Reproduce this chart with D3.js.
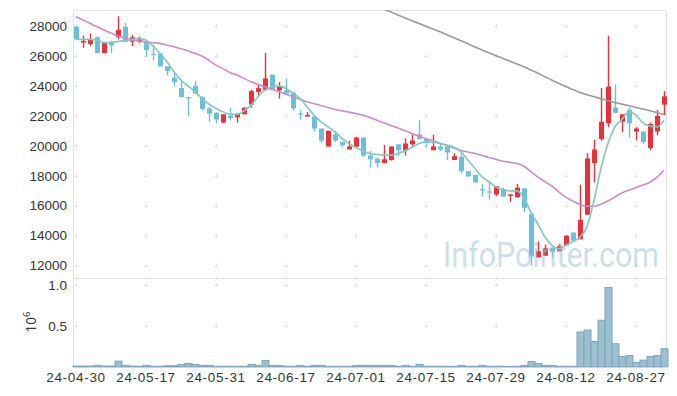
<!DOCTYPE html>
<html>
<head>
<meta charset="utf-8">
<script src="https://cdn.jsdelivr.net/npm/d3@7"></script>
<style>
  body { margin: 0; background: #fff; }
  svg { display: block; font-family: "Noto Sans", sans-serif; }
  .axis text { fill: #333; font-size: 13.5px; }
  .axis path, .axis line { display: none; }
</style>
</head>
<body>
<div class="chart"></div>
<script>
// trading days, 24-04-30 .. 24-09-02
const dates = [
  "24-04-30",
  "24-05-02","24-05-03","24-05-07","24-05-08","24-05-09","24-05-10","24-05-13","24-05-14","24-05-16","24-05-17",
  "24-05-20","24-05-21","24-05-22","24-05-23","24-05-24","24-05-27","24-05-28","24-05-29","24-05-30","24-05-31",
  "24-06-03","24-06-04","24-06-05","24-06-07","24-06-10","24-06-11","24-06-12","24-06-13","24-06-14",
  "24-06-17","24-06-18","24-06-19","24-06-20","24-06-21","24-06-24","24-06-25","24-06-26","24-06-27","24-06-28",
  "24-07-01","24-07-02","24-07-03","24-07-04","24-07-05","24-07-08","24-07-09","24-07-10","24-07-11","24-07-12",
  "24-07-15","24-07-16","24-07-17","24-07-18","24-07-19","24-07-22","24-07-23","24-07-24","24-07-25","24-07-26",
  "24-07-29","24-07-30","24-07-31","24-08-01","24-08-02","24-08-05","24-08-06","24-08-07","24-08-08","24-08-09",
  "24-08-12","24-08-13","24-08-14","24-08-16","24-08-19","24-08-20","24-08-21","24-08-22","24-08-23",
  "24-08-26","24-08-27","24-08-28","24-08-29","24-08-30","24-09-02"
];

const open = [27950,26900,26800,27250,26200,26900,27250,27950,26950,26950,
  26950,26150,26150,25300,24550,23850,23250,24000,23250,22500,
  22200,21550,22000,21900,22100,22750,23600,23750,24750,23700,
  23700,23550,22150,21950,21950,21150,19950,20750,20250,19750,
  19950,20550,19350,19150,18850,19050,20100,19700,20100,20750,
  20450,19700,19950,19950,19050,19250,18300,18050,17100,16950,
  16750,17100,16650,16550,17150,15450,12550,12650,13200,12950,
  13350,14200,13750,15400,18850,20450,21500,22550,21600,22400,
  20950,20950,19850,20950,22750];
const high = [28000,27350,27500,27300,26900,27000,28650,28200,27400,27300,
  26950,26750,26150,25300,24950,24300,23250,24350,23300,22600,
  22250,22100,22550,22150,22550,23750,24100,26200,24750,24250,
  24500,23550,22400,22250,21950,21150,21000,21000,20250,20350,
  20600,20550,19650,19150,20050,19950,20100,20500,20750,21700,
  20450,20750,20150,19950,19500,19600,18300,18050,17450,17650,
  17300,17200,16750,17450,17150,15450,13600,13400,13200,13450,
  14000,14200,17400,19500,20400,23850,27350,24100,22100,22550,
  21250,20950,21550,22400,23650];
const low = [27100,26550,26650,26200,26200,26200,27100,26900,26650,26850,
  25950,25700,25300,24700,23950,23250,21950,23450,22350,21600,
  21500,21500,21700,21550,22100,22550,23250,23650,23750,23150,
  23450,22350,21750,21950,20950,20200,19950,20250,19900,19750,
  19900,19250,18550,18550,18850,19000,19300,19350,19950,20450,
  19900,19700,19650,19050,19050,18150,17950,17550,16600,16400,
  16650,16600,16250,16550,15550,12000,12550,12650,12500,12950,
  13350,13650,13750,15400,17550,20350,21250,22200,20900,20550,
  20350,20100,19700,20700,22050];
const close = [27100,27000,27100,26200,26900,26700,27750,26950,27250,27100,
  26400,26100,25300,25000,24250,23250,23200,23500,22450,22150,
  21750,22100,21850,22150,22550,23650,23850,24500,23750,23950,
  23500,22500,22100,22050,21150,20350,21000,20350,20050,19950,
  20550,19350,19100,18850,19100,19950,19700,20150,20350,20450,
  20200,19950,19750,19550,19300,18300,17950,17550,17050,16900,
  17300,16600,16750,17200,15850,12600,12950,13150,12900,13300,
  14000,13650,15050,19150,19750,21600,23950,22200,22100,21500,
  21150,20250,21450,22000,23300];
const volume = [8000,8000,8000,16000,8000,8000,68000,16000,8000,5000,
  16000,5000,5000,12000,12000,28000,40000,28000,16000,16000,
  5000,5000,5000,5000,5000,28000,16000,76000,16000,16000,
  5000,5000,16000,5000,16000,16000,5000,5000,5000,5000,
  16000,16000,16000,16000,16000,16000,5000,16000,5000,28000,
  5000,5000,5000,5000,3000,16000,5000,5000,16000,5000,
  5000,5000,3000,5000,16000,64000,40000,16000,16000,5000,
  5000,5000,424000,448000,308000,568000,968000,280000,124000,136000,
  52000,80000,124000,136000,220000];

// moving averages as drawn
const ma5 = [27108,27108,27108,27063,26885,26907,26974,27019,27108,27175,
  27063,26662,26171,25614,24945,24387,24000,23605,23163,22782,
  22494,22270,22093,22093,22334,22700,23272,23718,23941,23986,
  23830,23495,23161,22603,22046,21600,21265,20930,20485,20150,
  19882,19659,19481,19414,19370,19370,19481,19659,19882,20150,
  20262,20239,20150,20038,19900,19592,19035,18478,17920,17586,
  17251,17073,16984,16984,16520,15550,14760,13900,13349,13125,
  13350,13600,13880,14600,16359,18500,20150,21265,21756,22269,
  22046,21533,21310,21265,21711];
const ma20 = [28624,28400,28178,27950,27732,27530,27331,27200,27063,27000,
  26930,26885,26840,26730,26617,26480,26350,26170,25993,25700,
  25390,25150,24900,24721,24500,24275,24100,23941,23770,23606,
  23440,23272,23100,22938,22810,22692,22560,22424,22330,22246,
  22150,22045,21880,21711,21530,21354,21180,20998,20820,20640,
  20480,20328,20170,20016,19850,19680,19580,19481,19350,19213,
  19090,18968,18890,18812,18634,18250,17900,17600,17300,16900,
  16550,16300,16080,15960,15960,16092,16315,16580,16850,17030,
  17206,17380,17563,17900,18366];
const ma120 = [null,null,null,null,null,null,null,null,null,null,
  null,null,null,null,null,null,null,null,null,null,
  null,null,null,null,null,null,null,null,null,null,
  null,null,null,null,null,null,null,null,null,null,
  29880,29690,29500,29310,29120,28930,28736,28540,28350,28160,
  27980,27800,27620,27420,27220,27018,26810,26600,26394,26210,
  26020,25836,25650,25460,25279,25060,24840,24610,24380,24160,
  23941,23750,23562,23410,23272,23140,23005,22890,22781,22670,
  22558,22450,22336,22210,22090];

const priceTicks = [12000,14000,16000,18000,20000,22000,24000,26000,28000];
const volTicks = [500000, 1000000];
const labelDates = ["24-04-30","24-05-17","24-05-31","24-06-17","24-07-01","24-07-15","24-07-29","24-08-12","24-08-27"];

const W = 677, H = 396;
const pL = 73, pR = 667, pT = 10, pSplit = 278, pB = 367;

const svg = d3.select(".chart").append("svg").attr("width", W).attr("height", H);

const x = d3.scaleBand().domain(dates).range([pL - 0.5, pR + 0.5]).padding(0);
const cx = d => x(d) + x.bandwidth() / 2;
const y = d3.scaleLinear().domain([11165, 29069]).range([pSplit, pT]);
const yv = d3.scaleLinear().domain([0, 1084000]).range([pB - 0.3, pSplit]);

svg.append("clipPath").attr("id", "pclip")
  .append("rect").attr("x", pL).attr("y", pT).attr("width", pR - pL).attr("height", pSplit - pT);

// frame
const frame = svg.append("g").attr("stroke", "#e3e3e3").attr("fill", "none");
frame.append("rect").attr("x", pL + 0.5).attr("y", pT + 0.5).attr("width", pR - pL - 1).attr("height", pB - pT);
frame.append("line").attr("x1", pL).attr("x2", pR).attr("y1", pSplit + 0.5).attr("y2", pSplit + 0.5);

// "+" grid marks
const gx = labelDates.map(cx);
const gy = priceTicks.map(y).concat(volTicks.map(yv), [pSplit, pB]);
const grid = svg.append("g").attr("stroke", "#e4e4e4").attr("stroke-width", 1);
gx.forEach(px => gy.forEach(py => {
  grid.append("line").attr("x1", px - 2).attr("x2", px + 2).attr("y1", Math.round(py) + 0.5).attr("y2", Math.round(py) + 0.5);
  grid.append("line").attr("x1", Math.round(px) + 0.5).attr("x2", Math.round(px) + 0.5).attr("y1", py - 2).attr("y2", py + 2);
}));

// volume bars
svg.append("g").selectAll("rect").data(dates).join("rect")
  .attr("x", d => x(d) + 0.5)
  .attr("width", x.bandwidth())
  .attr("y", (d, i) => yv(volume[i]))
  .attr("height", (d, i) => yv(0) - yv(volume[i]))
  .attr("fill", "#9cc0d0")
  .attr("stroke", "#7ba7bc")
  .attr("stroke-width", 1);

// candles
const up = i => close[i] > open[i];
const bw = x.bandwidth() * 0.72;
const candles = svg.append("g").attr("clip-path", "url(#pclip)")
  .selectAll("g").data(dates).join("g");
candles.append("line")
  .attr("x1", d => Math.round(cx(d)) + 0.5).attr("x2", d => Math.round(cx(d)) + 0.5)
  .attr("y1", (d, i) => y(high[i])).attr("y2", (d, i) => y(low[i]))
  .attr("stroke", (d, i) => up(i) ? "#ec2f38" : "#6cbfd8")
  .attr("stroke-width", 1.4);
candles.append("rect")
  .attr("x", d => Math.round(cx(d)) + 0.5 - bw / 2)
  .attr("width", bw)
  .attr("y", (d, i) => y(Math.max(open[i], close[i])))
  .attr("height", (d, i) => Math.max(1.2, Math.abs(y(open[i]) - y(close[i]))))
  .attr("fill", (d, i) => up(i) ? "#ec2f38" : "#6cbfd8");

// moving average lines
const lineOf = arr => d3.line()
  .defined((d, i) => arr[i] != null)
  .x(d => cx(d))
  .y((d, i) => y(arr[i]))
  .curve(d3.curveMonotoneX);
const lines = svg.append("g").attr("clip-path", "url(#pclip)").attr("fill", "none");
lines.append("path").attr("d", lineOf(ma120)(dates)).attr("stroke", "#9a9a9a").attr("stroke-width", 1.6);
lines.append("path").attr("d", lineOf(ma20)(dates)).attr("stroke", "#cc8ac8").attr("stroke-width", 1.6);
lines.append("path").attr("d", lineOf(ma5)(dates)).attr("stroke", "#86c8bf").attr("stroke-width", 1.7);

// watermark
svg.append("text")
  .attr("x", 443).attr("y", 267)
  .attr("textLength", 216)
  .attr("lengthAdjust", "spacingAndGlyphs")
  .attr("font-family", "Roboto, sans-serif")
  .attr("font-size", 35)
  .attr("fill", "#9ec3d8").attr("fill-opacity", 0.55)
  .text("InfoPointer.com");

// axes
svg.append("g").attr("class", "axis")
  .attr("transform", `translate(${pL},0)`)
  .call(d3.axisLeft(y).tickValues(priceTicks).tickSize(0).tickPadding(6).tickFormat(d3.format("d")));
svg.append("g").attr("class", "axis")
  .attr("transform", `translate(${pL},0)`)
  .call(d3.axisLeft(yv).tickValues(volTicks).tickSize(0).tickPadding(6).tickFormat(d => (d / 1e6).toFixed(1)));
svg.append("g").attr("class", "axis")
  .attr("transform", `translate(0,${pB})`)
  .call(d3.axisBottom(x).tickValues(labelDates).tickSize(0).tickPadding(5))
  .selectAll("text").attr("letter-spacing", "0.7px");

const unit = svg.append("text")
  .attr("transform", "translate(36,322) rotate(-90)")
  .attr("text-anchor", "middle")
  .attr("fill", "#333").attr("font-size", 13.5);
unit.append("tspan").text("10");
unit.append("tspan").attr("dy", -6).attr("font-size", 9.5).text("6");
</script>
</body>
</html>
